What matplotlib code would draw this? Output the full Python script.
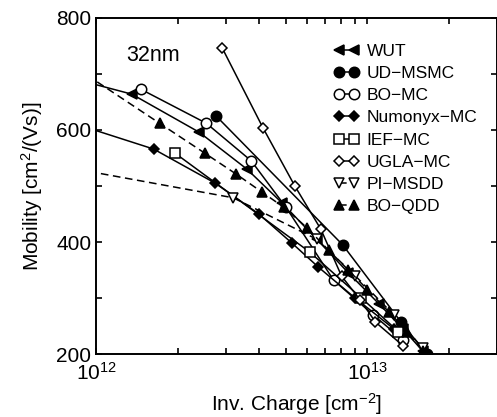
import matplotlib
matplotlib.use("Agg")
import matplotlib.pyplot as plt
import numpy as np

plt.rcParams['font.family'] = ['Liberation Sans', 'DejaVu Sans']
plt.rcParams['mathtext.fontset'] = 'custom'
plt.rcParams['mathtext.rm'] = 'Liberation Sans'
plt.rcParams['mathtext.it'] = 'Liberation Sans'
plt.rcParams['mathtext.bf'] = 'Liberation Sans'

# charge in units of 1e12 cm^-2, mobility in cm^2/Vs
wut_x = [0.85, 1.355, 2.40, 3.60, 4.84, 6.5, 8.5, 11.0, 13.5, 16.0]
wut_y = [690, 664, 596, 530, 470, 405, 345, 290, 245, 205]
udm_x = [2.77, 8.1, 13.3, 16.5]
udm_y = [625, 395, 257, 200]
bomc_x = [1.46, 2.55, 3.73, 5.01, 7.5, 10.5, 13.5]
bomc_y = [673, 612, 545, 462, 332, 270, 225]
num_x = [0.85, 1.63, 2.75, 3.98, 5.27, 6.6, 9.0, 12.5]
num_y = [610, 566, 505, 450, 398, 355, 300, 245]
ief_x = [1.95, 6.13, 9.5, 13.0]
ief_y = [559, 382, 300, 240]
ugla_x = [2.92, 4.12, 5.40, 6.73, 8.03, 9.42, 10.7, 13.5]
ugla_y = [746, 604, 500, 423, 339, 296, 257, 215]
pi_x = [0.85, 3.20, 6.5, 9.0, 12.5, 16.0]
pi_y = [530, 479, 405, 340, 270, 210]
qdd_x = [0.85, 1.715, 2.51, 3.29, 4.09, 4.92, 6.0, 7.2, 8.5, 10.0, 12.0, 14.0, 16.0]
qdd_y = [710, 612, 559, 521, 489, 462, 425, 385, 350, 315, 275, 240, 205]

series = [
    ("WUT", wut_x, wut_y, '<', 'k', '-'),
    ("UD\u2212MSMC", udm_x, udm_y, 'o', 'k', '-'),
    ("BO\u2212MC", bomc_x, bomc_y, 'o', 'w', '-'),
    ("Numonyx\u2212MC", num_x, num_y, 'D', 'k', '-'),
    ("IEF\u2212MC", ief_x, ief_y, 's', 'w', '-'),
    ("UGLA\u2212MC", ugla_x, ugla_y, 'D', 'w', '-'),
    ("PI\u2212MSDD", pi_x, pi_y, 'v', 'w', '--'),
    ("BO\u2212QDD", qdd_x, qdd_y, '^', 'k', '--'),
]
msize = {'<': 7, 'o': 7.5, 'D': 5.5, 's': 6.5, 'v': 7.5, '^': 7.5}

fig = plt.figure(figsize=(4.97, 4.17), dpi=100)
ax = fig.add_axes([96/497, 63/417, 401/497, 336/417])

for name, xs, ys, m, fc, ls in series:
    ax.plot(np.array(xs)*1e12, ys, linestyle=ls, color='k', lw=1.1,
            marker=m, markersize=msize[m], markerfacecolor=fc,
            markeredgecolor='k', markeredgewidth=1.1, label=name,
            dashes=(5, 3) if ls == '--' else (None, None))

ax.set_xscale('log')
ax.set_xlim(1e12, 3e13)
ax.set_ylim(200, 800)
ax.set_yticks([200, 400, 600, 800])
ax.set_yticks([300, 500, 700], minor=True)
ax.tick_params(which='both', direction='in', top=True, right=True,
               labelsize=15, width=1.2, length=4.5)
ax.tick_params(axis='x', pad=6)
for s in ax.spines.values():
    s.set_linewidth(1.4)

ax.set_xlabel(r'Inv. Charge [cm$^{-2}$]', fontsize=15, labelpad=5)
ax.set_ylabel(r'Mobility [cm$^2$/(Vs)]', fontsize=15, labelpad=8)
ax.text(0.075, 0.872, '32nm', transform=ax.transAxes, fontsize=15.5)

leg = ax.legend(loc='upper left', bbox_to_anchor=(0.575, 0.945), frameon=False,
                numpoints=2, handlelength=1.5, handletextpad=0.4,
                labelspacing=0.41, fontsize=12.5, borderaxespad=0)

fig.savefig('out.png', dpi=100)
